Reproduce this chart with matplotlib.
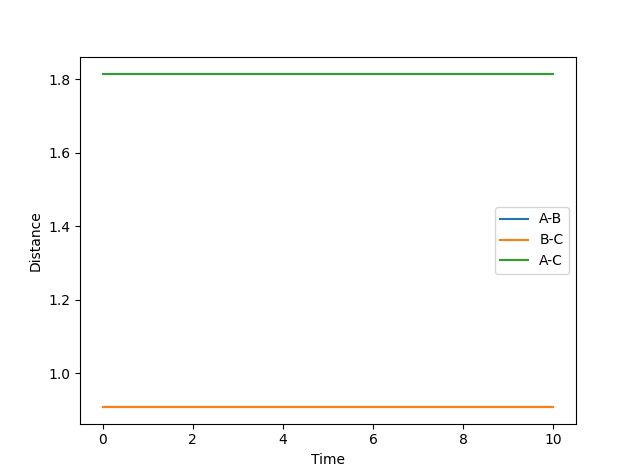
import matplotlib

matplotlib.use("Agg")
import matplotlib.pyplot as plt

time = [0, 1, 2, 3, 4, 5, 6, 7, 8, 9, 10]
dist_ab = [0.9075] * len(time)
dist_bc = [0.9075] * len(time)
dist_ac = [1.815] * len(time)

fig, ax = plt.subplots(figsize=(6.4, 4.76), dpi=100)
ax.plot(time, dist_ab, label="A-B")
ax.plot(time, dist_bc, label="B-C")
ax.plot(time, dist_ac, label="A-C")
ax.set_xlabel("Time")
ax.set_ylabel("Distance")
ax.legend()
fig.savefig("out.png")
